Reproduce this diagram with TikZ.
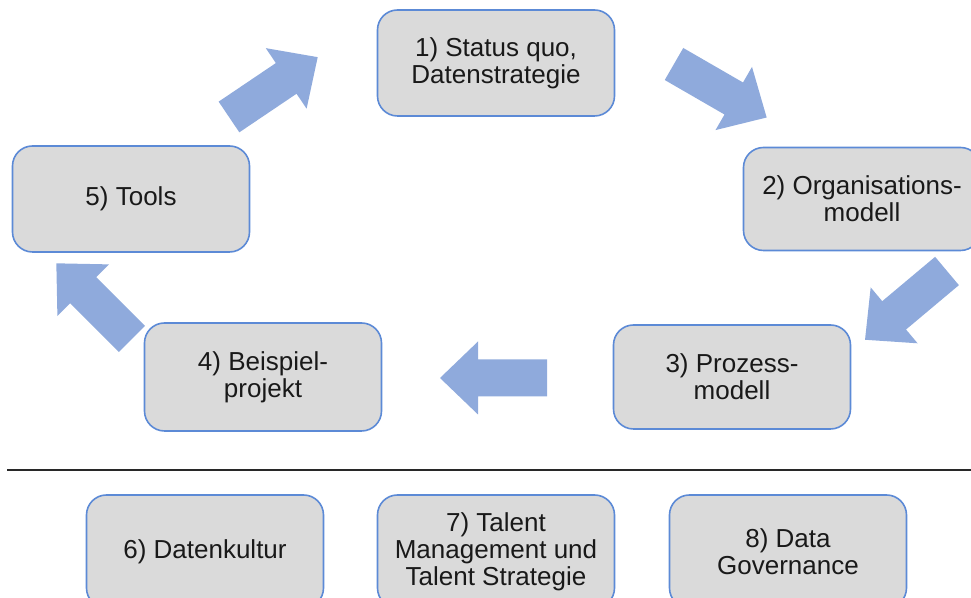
\documentclass[tikz,border=0pt]{standalone}
\usepackage{fontspec}
\setmainfont{Liberation Sans}
\usetikzlibrary{positioning}
\definecolor{boxfill}{RGB}{218,218,218}
\definecolor{boxline}{RGB}{92,138,214}
\definecolor{arrowblue}{RGB}{143,170,220}
\definecolor{sepline}{RGB}{40,40,40}
\tikzset{pics/blockarrow/.style={code={
  \fill[arrowblue,sharp corners] (0,-18.5) -- (69,-18.5) -- (69,-36.5) -- (107,0)
    -- (69,36.5) -- (69,18.5) -- (0,18.5) -- cycle;}}}
\begin{document}
\begin{tikzpicture}[x=0.5pt,y=0.5pt,
every node/.style={draw=boxline,line width=0.8pt,fill=boxfill,rounded corners=10pt,
  minimum width=118.5pt,minimum height=53pt,align=center,
  font=\fontsize{13}{13.5}\selectfont,text=black!90}]
\useasboundingbox (0,0) rectangle (971,598);
\clip (0,0) rectangle (971,598);
\node (S1) at (496,535) {1) Status quo,\\Datenstrategie};
\node[minimum height=51.5pt] (S2) at (862,399) {2) Organisations-\\modell};
\node[minimum height=52pt] (S3) at (732,221) {3) Prozess-\\modell};
\node[minimum height=54pt] (S4) at (263,221) {4) Beispiel-\\projekt};
\node (S5) at (131,399) {5) Tools};
\node[minimum height=56.5pt] (S6) at (205,46.5) {6) Datenkultur};
\node[minimum height=56.5pt] (S7) at (496,46.5) {7) Talent\\Management und\\Talent Strategie};
\node[minimum height=56.5pt] (S8) at (788,46.5) {8) Data\\Governance};
\coordinate (T51) at (229,481);
\coordinate (T12) at (674,534);
\coordinate (T23) at (947,327);
\coordinate (T34) at (547,220);
\coordinate (T45) at (132,259);
\pic[rotate=34] at (T51) {blockarrow};
\pic[rotate=-30] at (T12) {blockarrow};
\pic[rotate=220] at (T23) {blockarrow};
\pic[rotate=180] at (T34) {blockarrow};
\pic[rotate=135] at (T45) {blockarrow};
\coordinate (L1) at (7,128);
\coordinate (L2) at (971,128);
\draw[sepline,line width=1pt] (L1) -- (L2);
\end{tikzpicture}
\end{document}
